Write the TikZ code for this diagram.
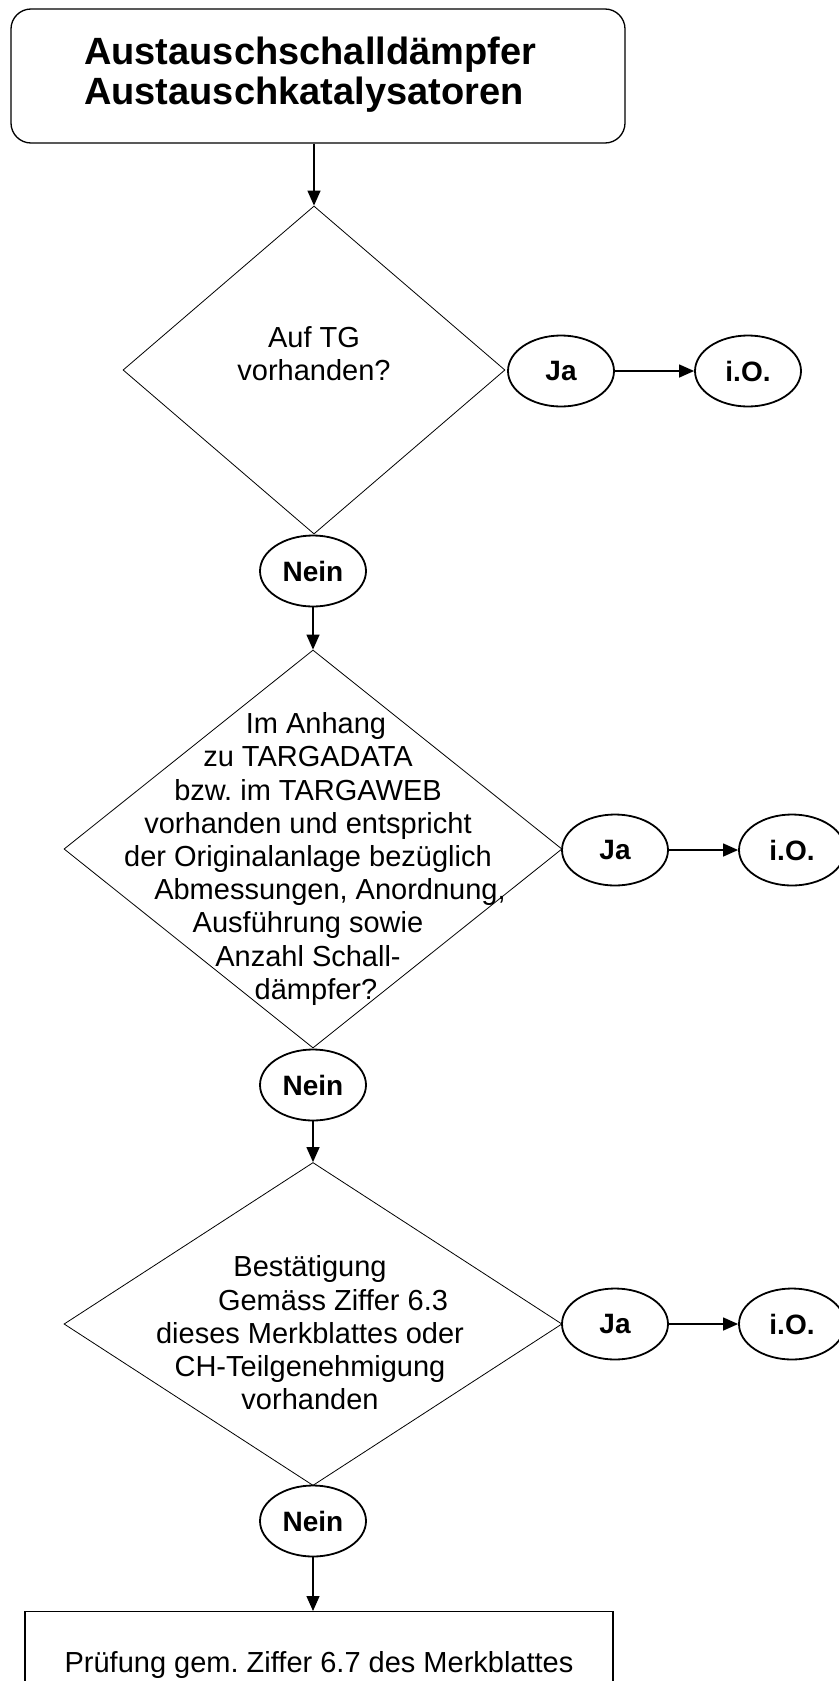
\documentclass[tikz,border=0pt]{standalone}
\usepackage{fontspec}
\setmainfont{Liberation Sans}
\usetikzlibrary{shapes.geometric,arrows.meta}
\frenchspacing

\tikzset{
  startbox/.style={draw, line width=1.3pt, rounded corners=20pt,
    minimum width=614pt, minimum height=134pt, inner sep=0pt},
  question/.style={draw, diamond, line width=0.8pt, inner sep=0pt},
  qtext/.style={align=center, inner sep=0pt,
    font=\fontsize{29}{33.2}\selectfont},
  answer/.style={draw, ellipse, line width=1.8pt, minimum width=106pt,
    minimum height=71pt, inner sep=0pt,
    font=\fontsize{28}{30}\selectfont\bfseries},
  endbox/.style={draw, line width=1.3pt, minimum width=588pt,
    minimum height=107pt, anchor=north, font=\fontsize{29}{33}\selectfont},
  flow/.style={-{Triangle[length=15pt,width=13pt]}, line width=1.3pt},
}

\begin{document}
\begin{tikzpicture}[x=1pt, y=-1pt]
        \useasboundingbox (0,0) rectangle (838,1681);

        % Titel
        \node[startbox] (start) at (318,76) {};
        \node[anchor=west, align=left, inner sep=0pt,
            font=\fontsize{38}{40}\selectfont\bfseries] (title) at (84,75)
            {Austauschschalldämpfer\\Austauschkatalysatoren};

        % erste Frage
        \node[question, minimum width=382pt, minimum height=328pt] (q1) at (314,370) {};
        \node[qtext] (q1txt) at (314,354) {Auf TG\\vorhanden?};
        \node[answer] (ja1) at (561,371) {Ja};
        \node[answer] (io1) at (748,371) {i.O.};
        \node[answer] (nein1) at (313,571) {Nein};

        % zweite Frage
        \node[question, minimum width=498pt, minimum height=398pt] (q2) at (313,849) {};
        \node[qtext] (q2txt) at (308,859)
            {\hspace*{16pt}Im Anhang\\
             zu TARGADATA\\
             bzw. im TARGAWEB\\
             vorhanden und entspricht\\
             der Originalanlage bezüglich\\
             \hspace*{44pt}Abmessungen, Anordnung,\\
             Ausführung sowie\hspace*{24pt}\\
             Anzahl Schall-\\
             \hspace*{16pt}dämpfer?};
        \node[answer] (ja2) at (615,850) {Ja};
        \node[answer] (io2) at (792,850) {i.O.};
        \node[answer] (nein2) at (313,1085) {Nein};

        % dritte Frage
        \node[question, minimum width=498pt, minimum height=323pt] (q3) at (313,1324) {};
        \node[qtext] (q3txt) at (310,1333)
            {Bestätigung\\
             \hspace*{46pt}Gemäss Ziffer 6.3\\
             dieses Merkblattes oder\hspace*{26pt}\\
             CH-Teilgenehmigung\hspace*{18pt}\\
             vorhanden};
        \node[answer] (ja3) at (615,1324) {Ja};
        \node[answer] (io3) at (792,1324) {i.O.};
        \node[answer] (nein3) at (313,1521) {Nein};

        % Abschluss
        \node[endbox] (check) at (319,1611) {Prüfung gem. Ziffer 6.7 des Merkblattes};

        % Pfeile
        \draw[flow] (q1.north |- start.south) -- (q1.north);
        \draw[flow] (ja1) -- (io1);
        \draw[flow] (nein1) -- (q2.north);
        \draw[flow] (ja2) -- (io2);
        \draw[flow] (nein2) -- (q3.north);
        \draw[flow] (ja3) -- (io3);
        \draw[flow] (nein3.south) -- (nein3.south |- check.north);
    \end{tikzpicture}
\end{document}
